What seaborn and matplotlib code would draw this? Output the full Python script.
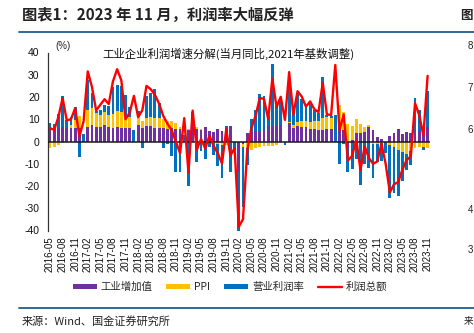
import numpy as np
import pandas as pd
import matplotlib
matplotlib.use("Agg")
import matplotlib.pyplot as plt
from matplotlib.lines import Line2D
from matplotlib.patches import Patch
import seaborn as sns

nan = np.nan
months = pd.period_range("2016-05", "2023-11", freq="M").strftime("%Y-%m").tolist()

# 工业增加值 (purple)
iva = [6.0, 6.2, 6.0, 6.3, 6.1, 6.1, 6.2, 6.0, nan, 6.3,
       7.6, 6.5, 6.5, 7.6, 6.4, 6.0, 6.6, 6.2, 6.1, 6.2,
       nan, 7.2, 6.0, 7.0, 6.8, 6.0, 6.0, 6.1, 5.8, 5.9,
       5.4, 5.7, nan, 5.3, 8.5, 5.4, 5.0, 6.3, 4.8, 4.4,
       5.8, 4.7, 6.2, 6.9, nan, -13.5, -1.1, 3.9, 4.4, 4.8,
       4.8, 5.6, 6.9, 6.9, 7.0, 7.3, nan, 8.1, 6.2, 6.8,
       6.6, 6.5, 5.6, 5.4, 5.0, 5.2, 5.4, 5.8, nan, 7.5,
       5.0, -2.9, 0.7, 3.9, 3.8, 4.2, 6.3, 5.0, 2.2, 1.3,
       nan, 2.4, 3.9, 5.6, 3.5, 4.4, 3.7, 4.5, 4.5, 4.6,
       6.6]
# PPI (yellow)
ppi = [-2.8, -2.6, -1.7, -0.8, 0.1, 1.2, 3.3, 5.5, nan, 7.8,
       7.6, 6.4, 5.5, 5.5, 5.5, 6.3, 6.9, 6.9, 5.8, 4.9,
       nan, 3.7, 3.1, 3.4, 4.1, 4.7, 4.6, 4.1, 3.6, 3.3,
       2.7, 0.9, nan, 0.1, 0.4, 0.9, 0.6, 0.0, -0.3, -0.8,
       -1.2, -1.6, -1.4, -0.5, nan, -0.4, -1.5, -3.1, -3.7, -3.0,
       -2.4, -2.0, -2.1, -2.1, -1.5, -0.4, nan, 0.6, 1.4, 1.8,
       2.5, 2.8, 3.2, 3.6, 4.1, 5.4, 5.5, 4.8, nan, 8.8,
       8.3, 8.0, 6.4, 6.1, 4.2, 2.3, 0.9, -1.3, -1.3, -0.7,
       nan, -1.4, -2.5, -3.6, -4.6, -5.4, -4.4, -3.0, -2.5, -2.6,
       -3.0]
# 营业利润率 (blue)
margin = [2.5, 1.5, 6.5, 14.0, 3.5, 3.8, 5.8, -6.8, 3.5, 13.5,
          6.5, 1.0, 2.0, 3.5, 4.0, 12.0, 11.8, 12.0, 9.0, 4.5,
          5.0, 3.0, -2.7, 10.0, 11.0, 12.7, 6.5, -2.7, -1.0, -6.5,
          -13.9, -13.9, 3.0, -20.0, 4.5, -9.0, -4.3, -8.0, -2.1, -5.4,
          -9.9, -15.0, 0.6, -13.0, -4.0, -26.5, -26.7, -7.5, 5.5, 9.5,
          16.5, 15.0, 5.0, 28.0, 9.5, 12.3, -1.5, 19.0, 8.0, 13.0,
          10.0, 6.0, 8.5, 5.0, 3.8, 18.5, 1.2, 1.0, 12.0, -10.3,
          -1.0, -11.0, -12.5, -8.0, -19.5, -10.0, -12.0, -15.0, -8.0, -8.0,
          -5.0, -24.0, -20.5, -21.0, -13.0, -7.5, -6.1, 15.0, 9.7, -1.2,
          16.0]
# 利润总额 (red line)
profit = [6.0, 5.2, 11.0, 19.5, 9.5, 10.0, 15.0, 2.3, 9.0, 31.5,
          24.5, 14.0, 16.5, 19.0, 16.8, 27.0, 32.5, 27.5, 10.0, 13.0,
          20.5, 11.0, 14.0, 25.0, 23.5, 21.0, 17.0, 11.5, 8.0, 5.0,
          0.0, -5.3, 10.5, -14.0, 13.9, -3.7, 1.1, -3.1, 2.6, -2.0,
          -5.3, -9.9, 5.4, -6.3, -3.0, -38.3, -34.9, -4.3, 6.0, 11.5,
          19.6, 19.1, 10.1, 28.2, 15.5, 20.1, 9.7, 31.2, 12.0, 22.6,
          20.2, 15.7, 18.0, 14.5, 13.2, 26.4, 12.2, 11.9, 34.4, 5.0,
          12.2, -8.5, -6.5, 0.8, -12.8, -2.1, -7.4, -10.0, -9.0, -1.0,
          -10.0, -22.9, -19.2, -18.2, -12.6, -8.3, -6.7, 17.2, 11.9, 2.7,
          29.5]

series = [("工业增加值", iva, "#7030A0"),
          ("PPI", ppi, "#FFC000"),
          ("营业利润率", margin, "#0070C0")]
line_name, line_color = "利润总额", "#FF0000"
frame_color = "#1F5F8B"

sns.set_theme(style="white")
plt.rcParams["font.family"] = ["Noto Sans CJK SC", "DejaVu Sans"]
plt.rcParams["axes.unicode_minus"] = False

W, H = 474, 333
fig = plt.figure(figsize=(W / 100, H / 100), dpi=100)
ax = fig.add_axes([47.9 / W, 1 - 230.5 / H, 381.8 / W, 178.0 / H])

x = np.arange(len(months))
pos_base = np.zeros(len(x))
neg_base = np.zeros(len(x))
for name, vals, color in series:
    v = np.nan_to_num(np.array(vals, dtype=float))
    bottom = np.where(v >= 0, pos_base, neg_base)
    ax.bar(x, v, bottom=bottom, width=0.68, color=color, linewidth=0, zorder=2)
    pos_base = pos_base + np.clip(v, 0, None)
    neg_base = neg_base + np.clip(v, None, 0)

ax.axhline(0, color="#1a1a1a", lw=1.1, zorder=3)
df = pd.DataFrame({"idx": x, "profit": profit})
sns.lineplot(data=df, x="idx", y="profit", ax=ax, color=line_color, lw=1.7,
             zorder=4, legend=False)

ax.set_xlim(-0.5, len(x) - 0.5)
ax.set_ylim(-40, 40)
ax.set_yticks(range(-40, 41, 10))
ax.set_yticklabels([str(t) for t in range(-40, 41, 10)], fontsize=7.5,
                   family=["Liberation Sans", "DejaVu Sans"])
ax.set_xticks(x[::3])
ax.set_xticklabels(months[::3], rotation=90, fontsize=7.0,
                   family=["Liberation Sans", "DejaVu Sans"])
ax.set_xlabel("")
ax.set_ylabel("")
for s in ["top", "right", "bottom"]:
    ax.spines[s].set_visible(False)
ax.spines["left"].set_color("#333333")
ax.spines["left"].set_linewidth(0.9)
ax.tick_params(axis="y", direction="out", length=3, width=0.8, color="#333333", pad=3, colors="#111111")
ax.tick_params(axis="x", length=0, pad=4, colors="#111111")
ax.set_facecolor("white")

fig.text(55 / W, 1 - 46 / H, "(%)", fontsize=7, va="center", ha="left",
         family=["Liberation Sans", "DejaVu Sans"])
fig.text(228 / W, 1 - 54 / H, "工业企业利润增速分解(当月同比,2021年基数调整)",
         fontsize=8.2, ha="center", va="center", color="#111111")

fig.text(22 / W, 1 - 15 / H, "图表1：2023 年 11 月，利润率大幅反弹", fontsize=11,
         fontweight="bold", style="italic", ha="left", va="center", color="#222222")
fig.add_artist(Line2D([19 / W, 1.0], [1 - 31.5 / H] * 2, color=frame_color, lw=1.3))
fig.add_artist(Line2D([19 / W, 1.0], [1 - 308.3 / H] * 2, color=frame_color, lw=1.3))
fig.text(22 / W, 1 - 321 / H, "来源：Wind、国金证券研究所", fontsize=8, ha="left",
         va="center", color="#222222")

# fragments of the neighbouring chart at the right edge (kept inside the canvas)
fig.text(473 / W, 1 - 15 / H, "图", fontsize=9, fontweight="bold", ha="right", va="center", color="#222222")
fig.text(473 / W, 1 - 321 / H, "来", fontsize=7, ha="right", va="center", color="#222222")
for yy, tt in [(46, "8"), (88, "7"), (130, "6"), (210, "4"), (250, "3")]:
    fig.text(473 / W, 1 - yy / H, tt, fontsize=7, ha="right", va="center", color="#222222",
             family=["Liberation Sans", "DejaVu Sans"])

handles = [Patch(facecolor=c, edgecolor="none", label=n) for n, _, c in series]
handles.append(Line2D([], [], color=line_color, lw=1.7, label=line_name))
fig.legend(handles=handles, loc="center", bbox_to_anchor=(230 / W, 1 - 287 / H), ncol=4,
           frameon=False, fontsize=7.5, handlelength=2.3, handleheight=0.45,
           handletextpad=0.4, columnspacing=1.3)

fig.savefig("out.png", dpi=100, facecolor="white")
